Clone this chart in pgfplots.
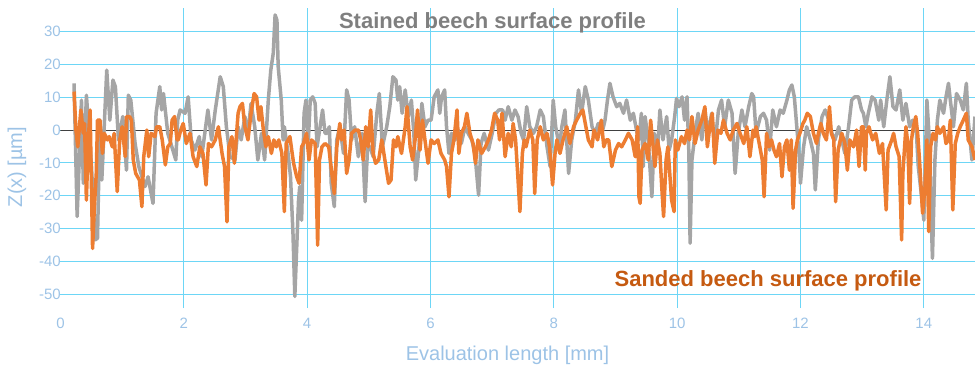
\documentclass[border=0pt]{standalone}
\usepackage{fontspec}
\setmainfont{Liberation Sans}
\usepackage{pgfplots}
\pgfplotsset{compat=1.18}
\definecolor{stained}{HTML}{A5A5A5}
\definecolor{sanded}{HTML}{ED7D31}
\definecolor{ticklab}{HTML}{9DC3E6}
\definecolor{gridc}{HTML}{6DD6F6}
\definecolor{titlegray}{HTML}{7F7F7F}
\definecolor{titleorange}{HTML}{C55A11}
\begin{document}
\begin{tikzpicture}
\begin{axis}[
  scale only axis,
  width=914.5pt, height=300pt,
  xmin=0, xmax=14.83,
  ymin=-54.1, ymax=37.1,
  xtick={2,4,6,8,10,12,14},
  extra x ticks={0},
  extra x tick style={xmajorgrids=false},
  ytick={-50,-40,-30,-20,-10,0,10,20,30},
  xmajorgrids=true, ymajorgrids=true,
  grid style={draw=gridc, solid, line width=0.9pt},
  major grid style={draw=gridc, solid, line width=0.9pt},
  axis line style={draw=none},
  tick style={draw=none},
  major tick length=0pt,
  /pgf/number format/assume math mode=true,
  ticklabel style={font=\fontsize{15}{18}\selectfont, text=ticklab},
  xticklabel style={anchor=center, yshift=-15pt},
  yticklabel style={anchor=east, inner sep=0pt, xshift=0.5pt},
  xlabel={Evaluation length [mm]},
  ylabel={Z(x) [µm]},
  label style={font=\fontsize{20}{24}\selectfont, text=ticklab},
  xlabel style={at={(axis description cs:0.4888,-0.157)}, anchor=center},
  ylabel style={at={(axis description cs:-0.0476,0.47)}, anchor=center, rotate=0},
  clip=true,
]
\addplot[draw=black!75, line width=0.9pt, forget plot] coordinates {(0,0) (14.83,0)};
\addplot[draw=stained, line width=3.5pt, line join=round] coordinates {
(0.22,14.2) (0.27,-26.3) (0.34,9.1) (0.37,-16.2) (0.42,10.6) (0.50,-10) (0.56,-33.4) (0.60,-32.9)
(0.64,3.0) (0.67,-15.2) (0.75,18.2) (0.80,3.0) (0.85,15.2) (0.89,13.2) (0.94,-3.0) (1.01,4.1)
(1.07,-12.2) (1.10,10.6) (1.14,9.1) (1.21,-4.1) (1.27,-11.1) (1.37,-17.2) (1.42,-14.2) (1.50,-22.3)
(1.55,5.1) (1.61,13.2) (1.64,6.1) (1.67,11.1) (1.74,-1.0) (1.87,-9.1) (1.90,3.0) (1.94,6.1)
(2.02,5.1) (2.07,10.1) (2.12,-3.0) (2.18,-6.1) (2.25,-2.0) (2.29,-8.1) (2.39,6.1) (2.45,-3.0)
(2.51,6.1) (2.59,16.2) (2.64,13.2) (2.69,1.0) (2.75,-8.1) (2.83,-9.1) (2.88,1.0) (2.93,-3.0)
(2.99,4.1) (3.04,-1.0) (3.09,8.1) (3.15,1.0) (3.20,-9.1) (3.26,-1.0) (3.31,-9.1) (3.37,9.1)
(3.41,18.2) (3.45,23.3) (3.48,35.0) (3.51,33.4) (3.53,19.3) (3.58,9.1) (3.61,-3.0) (3.63,1.0)
(3.69,-7.1) (3.73,-14.2) (3.77,-31.4) (3.80,-50.6) (3.86,-21.3) (3.88,-17.2) (3.91,-27.4) (3.95,5.1)
(3.98,9.1) (4.02,-3.0) (4.05,9.1) (4.09,10.1) (4.13,8.1) (4.16,-5.1) (4.21,1.0) (4.25,6.1)
(4.29,-1.0) (4.32,-1.0) (4.36,1.0) (4.39,-16.2) (4.44,-23.3) (4.48,-3.0) (4.53,1.0) (4.59,-7.1)
(4.64,12.2) (4.68,9.1) (4.72,-3.0) (4.77,1.0) (4.83,-8.1) (4.89,-1.0) (4.94,-21.8) (4.98,-5.1)
(5.02,-5.1) (5.07,-8.1) (5.13,5.1) (5.17,11.1) (5.22,-5.1) (5.29,1.0) (5.34,7.1) (5.39,16.2)
(5.44,15.2) (5.47,9.1) (5.50,13.2) (5.54,5.1) (5.59,12.2) (5.64,4.1) (5.69,9.1) (5.73,-1.0)
(5.76,-15.2) (5.81,-6.1) (5.86,8.1) (5.91,1.0) (5.96,3.0) (6.01,3.0) (6.06,10.1) (6.12,12.2)
(6.15,5.1) (6.18,10.1) (6.23,12.2) (6.26,1.0) (6.30,-7.1) (6.34,-1.0) (6.40,-3.0) (6.45,0)
(6.50,-4.1) (6.56,1.0) (6.61,-1.0) (6.67,-3.0) (6.72,-7.1) (6.78,-19.8) (6.82,-4.1) (6.87,-1.0)
(6.94,-6.1) (7.00,-1.0) (7.06,5.1) (7.11,6.1) (7.17,6.1) (7.21,3.0) (7.26,7.1) (7.32,3.0)
(7.37,6.1) (7.42,4.1) (7.47,-1.0) (7.51,-3.0) (7.56,7.1) (7.61,1.0) (7.67,-1.0) (7.72,1.0)
(7.78,6.1) (7.83,4.1) (7.89,-5.1) (7.94,-11.1) (7.99,9.1) (8.03,1.0) (8.09,-5.1) (8.13,1.0)
(8.18,6.1) (8.24,-13.2) (8.29,-3.0) (8.35,3.0) (8.40,12.2) (8.45,5.1) (8.51,13.2) (8.56,9.1)
(8.62,1.0) (8.67,-1.0) (8.72,2.0) (8.78,-1.0) (8.83,3.0) (8.87,9.1) (8.91,14.2) (8.96,10.1)
(9.02,7.1) (9.07,8.1) (9.13,5.1) (9.18,9.1) (9.24,3.0) (9.29,5.1) (9.34,0) (9.38,-3.0)
(9.42,5.1) (9.45,-11.1) (9.48,4.1) (9.53,-3.0) (9.59,-20.3) (9.63,-1.0) (9.68,-7.1) (9.72,6.1)
(9.77,-3.0) (9.83,4.1) (9.87,-6.1) (9.91,-3.0) (9.96,4.1) (9.99,9.6) (10.03,7.1) (10.08,10.1)
(10.12,3.0) (10.16,10.1) (10.19,-7.1) (10.21,-34.4) (10.24,-9.1) (10.29,-1.0) (10.34,5.1) (10.40,-3.0)
(10.45,6.1) (10.50,-1.0) (10.56,5.1) (10.61,-5.1) (10.67,6.1) (10.72,9.1) (10.77,1.0) (10.83,9.1)
(10.89,5.1) (10.94,-13.2) (10.99,-1.0) (11.05,6.1) (11.10,1.0) (11.16,7.1) (11.21,11.1) (11.24,10.1)
(11.28,-1.0) (11.35,4.1) (11.40,5.1) (11.45,3.0) (11.50,-6.1) (11.55,6.1) (11.61,1.0) (11.67,6.1)
(11.72,5.1) (11.78,9.1) (11.82,12.2) (11.86,13.7) (11.90,10.1) (11.94,1.0) (11.98,-8.1) (12.00,-16.2)
(12.05,-5.1) (12.10,1.0) (12.16,-3.0) (12.21,-7.1) (12.24,-18.2) (12.29,-3.0) (12.35,4.1) (12.40,6.1)
(12.46,3.0) (12.51,-1.0) (12.56,-3.0) (12.62,1.0) (12.67,-3.0) (12.72,-7.1) (12.78,1.0) (12.83,9.1)
(12.88,10.1) (12.94,10.1) (12.99,6.1) (13.02,5.1) (13.06,1.0) (13.10,5.1) (13.16,10.1) (13.21,9.1)
(13.27,3.0) (13.30,9.1) (13.35,1.0) (13.40,9.1) (13.45,16.2) (13.50,7.1) (13.55,6.1) (13.61,12.2)
(13.66,3.0) (13.71,8.1) (13.77,1.0) (13.82,3.0) (13.88,-1.0) (13.91,-11.1) (13.97,-21.3) (14.00,-27.4)
(14.05,9.1) (14.09,-3.0) (14.12,-26.3) (14.14,-39.0) (14.18,-9.1) (14.22,3.0) (14.26,9.1) (14.32,5.1)
(14.36,10.1) (14.40,14.2) (14.43,9.1) (14.48,1.0) (14.53,11.1) (14.59,9.1) (14.64,6.1) (14.69,14.2)
(14.72,3.0) (14.78,-9.1) (14.83,4.1)
};
\addplot[draw=sanded, line width=3.5pt, line join=round] coordinates {
(0.22,11.7) (0.25,0) (0.28,-5.1) (0.33,6.1) (0.37,-1.0) (0.39,2.0) (0.42,-21.3) (0.45,-3.0)
(0.48,6.1) (0.52,-36.0) (0.55,-23.3) (0.58,-13.2) (0.60,3.0) (0.64,3.0) (0.68,-7.1) (0.71,-1.0)
(0.76,-3.0) (0.79,-2.0) (0.84,-5.1) (0.87,-1.0) (0.92,-18.7) (0.96,-3.0) (1.00,1.0) (1.05,-8.1)
(1.07,4.1) (1.12,4.1) (1.15,3.0) (1.18,-9.1) (1.22,-13.2) (1.28,-15.2) (1.32,-23.3) (1.35,-8.1)
(1.40,0) (1.43,-8.1) (1.47,-1.0) (1.53,-2.0) (1.56,1.0) (1.61,1.0) (1.65,-3.0) (1.70,-10.6)
(1.74,-5.1) (1.78,-4.1) (1.81,3.0) (1.85,4.1) (1.89,-3.0) (1.91,-3.0) (1.95,0) (1.99,2.0)
(2.04,-4.1) (2.10,-1.0) (2.15,-8.1) (2.21,-11.1) (2.26,-5.1) (2.31,-7.1) (2.36,-16.7) (2.40,-4.1)
(2.45,-5.1) (2.51,-3.0) (2.56,1.0) (2.62,-7.1) (2.66,-11.1) (2.70,-27.9) (2.73,-5.1) (2.78,-2.0)
(2.82,-10.1) (2.88,5.1) (2.91,7.1) (2.95,8.1) (2.99,1.0) (3.04,-3.0) (3.09,5.1) (3.14,11.1)
(3.18,10.1) (3.22,3.0) (3.25,7.1) (3.29,0) (3.33,-5.1) (3.37,-2.0) (3.42,-7.1) (3.46,-3.0)
(3.50,-5.1) (3.54,-3.0) (3.59,-7.1) (3.63,-24.8) (3.66,-4.1) (3.72,-2.0) (3.75,-6.1) (3.78,-10.1)
(3.83,-14.2) (3.87,-16.2) (3.91,-5.1) (3.94,-4.1) (3.99,-1.0) (4.03,-9.1) (4.07,-3.0) (4.13,-4.1)
(4.17,-35.0) (4.20,-9.1) (4.24,-5.1) (4.29,-4.1) (4.35,-5.1) (4.40,-13.2) (4.44,-19.3) (4.48,-5.1)
(4.53,2.0) (4.56,-3.0) (4.60,0) (4.64,-13.2) (4.68,-9.1) (4.72,-1.0) (4.78,0) (4.83,0)
(4.87,-3.0) (4.91,-9.1) (4.95,1.0) (4.99,-5.1) (5.03,6.1) (5.07,-7.1) (5.11,-10.1) (5.16,-9.1)
(5.21,-3.0) (5.26,-9.1) (5.32,-16.2) (5.36,-15.2) (5.40,-3.0) (5.44,-5.1) (5.47,-2.0) (5.53,-7.1)
(5.59,1.0) (5.62,7.1) (5.67,-5.1) (5.71,-9.1) (5.75,-3.0) (5.79,6.1) (5.83,-6.1) (5.87,3.0)
(5.91,-3.0) (5.96,-10.1) (6.01,-3.0) (6.06,-4.1) (6.12,-3.0) (6.17,-7.1) (6.23,-9.1) (6.26,-11.1)
(6.30,-20.3) (6.34,-7.1) (6.38,-3.0) (6.43,6.1) (6.46,-7.1) (6.50,-1.0) (6.55,1.0) (6.59,5.1)
(6.64,-1.0) (6.69,-4.1) (6.73,-10.1) (6.77,-3.0) (6.83,-7.1) (6.89,-5.1) (6.94,-3.0) (6.99,0)
(7.04,5.1) (7.09,3.0) (7.12,-3.0) (7.16,5.1) (7.21,-8.1) (7.26,-1.0) (7.31,-5.1) (7.34,2.0)
(7.38,-3.0) (7.42,-15.2) (7.45,-24.8) (7.49,-7.1) (7.52,-3.0) (7.55,-5.1) (7.61,0) (7.66,-3.0)
(7.69,-19.3) (7.73,-3.0) (7.78,1.0) (7.83,-3.0) (7.89,-1.0) (7.93,-5.1) (7.98,-16.7) (8.02,-7.1)
(8.05,-3.0) (8.10,-7.1) (8.15,-3.0) (8.21,1.0) (8.26,-4.1) (8.32,1.0) (8.37,3.0) (8.43,5.1)
(8.47,6.1) (8.51,2.0) (8.56,-3.0) (8.62,-5.1) (8.65,0) (8.71,-3.0) (8.77,3.0) (8.81,-5.1)
(8.85,-3.0) (8.89,-3.0) (8.94,-11.1) (9.00,-6.1) (9.05,-4.1) (9.10,-5.1) (9.16,-3.0) (9.21,-1.0)
(9.27,-3.0) (9.32,-8.1) (9.36,1.0) (9.38,-20.3) (9.40,-22.3) (9.43,-6.1) (9.48,-4.1) (9.53,-9.1)
(9.57,3.0) (9.61,-5.1) (9.64,-11.1) (9.68,-3.0) (9.72,-7.1) (9.75,-17.2) (9.78,-26.3) (9.82,-9.1)
(9.85,-5.1) (9.88,-13.2) (9.91,-21.3) (9.95,-24.8) (9.97,-3.0) (10.01,-6.1) (10.07,-2.0) (10.12,-4.1)
(10.16,0) (10.20,-3.0) (10.24,4.1) (10.29,-4.1) (10.34,0) (10.40,3.0) (10.45,7.1) (10.49,-5.1)
(10.53,1.0) (10.57,5.1) (10.61,-10.1) (10.66,0) (10.71,-1.0) (10.75,3.0) (10.81,-1.0) (10.86,-3.0)
(10.91,0) (10.97,2.0) (11.02,-1.0) (11.08,-4.1) (11.13,1.0) (11.18,-8.1) (11.23,0) (11.26,-2.0)
(11.28,1.0) (11.32,-3.0) (11.38,-9.1) (11.41,-20.3) (11.45,-1.0) (11.49,-5.1) (11.53,-3.0) (11.57,-6.1)
(11.61,-8.1) (11.66,-4.1) (11.70,-14.2) (11.74,-5.1) (11.78,-3.0) (11.82,-12.2) (11.85,-3.0) (11.88,-23.8)
(11.92,-6.1) (11.95,-3.0) (11.99,-1.0) (12.04,2.0) (12.07,3.0) (12.11,5.1) (12.16,4.1) (12.21,-1.0)
(12.26,-4.1) (12.29,-1.0) (12.33,2.0) (12.37,-1.0) (12.42,-3.0) (12.47,7.1) (12.50,-1.0) (12.54,-3.0)
(12.57,-21.8) (12.61,-6.1) (12.67,-1.0) (12.72,-4.1) (12.76,-12.2) (12.80,-3.0) (12.86,-5.1) (12.91,0)
(12.95,-11.1) (12.99,1.0) (13.02,1.0) (13.05,-12.2) (13.07,-1.0) (13.11,1.0) (13.17,-3.0) (13.22,-1.0)
(13.28,-7.1) (13.33,-4.1) (13.39,-24.3) (13.42,-6.1) (13.48,-3.0) (13.51,-1.0) (13.55,-5.1) (13.60,-8.1)
(13.64,-33.4) (13.66,-13.2) (13.71,1.0) (13.74,-4.1) (13.77,-22.3) (13.80,-3.0) (13.83,1.0) (13.87,4.1)
(13.90,-1.0) (13.93,-9.1) (13.98,-25.3) (14.02,-17.2) (14.05,-3.0) (14.08,-30.9) (14.11,-5.1) (14.15,-1.0)
(14.19,-3.0) (14.22,1.0) (14.26,-1.0) (14.32,1.0) (14.36,-4.1) (14.40,-3.0) (14.43,3.0) (14.47,-24.3)
(14.51,-4.1) (14.55,-1.0) (14.59,1.0) (14.64,3.0) (14.69,5.1) (14.72,-3.0) (14.78,-5.1) (14.83,-9.1)
};
\node[anchor=base, text=titlegray, font=\fontsize{22}{26}\selectfont\bfseries] at (axis description cs:0.4724,0.9333) {Stained beech surface profile};
\node[anchor=base, text=titleorange, font=\fontsize{22}{26}\selectfont\bfseries] at (axis description cs:0.7737,0.071) {Sanded beech surface profile};
\end{axis}
\pgfresetboundingbox
\path (-60.5pt,-60pt) rectangle (914.5pt,308pt);
\end{tikzpicture}
\end{document}
